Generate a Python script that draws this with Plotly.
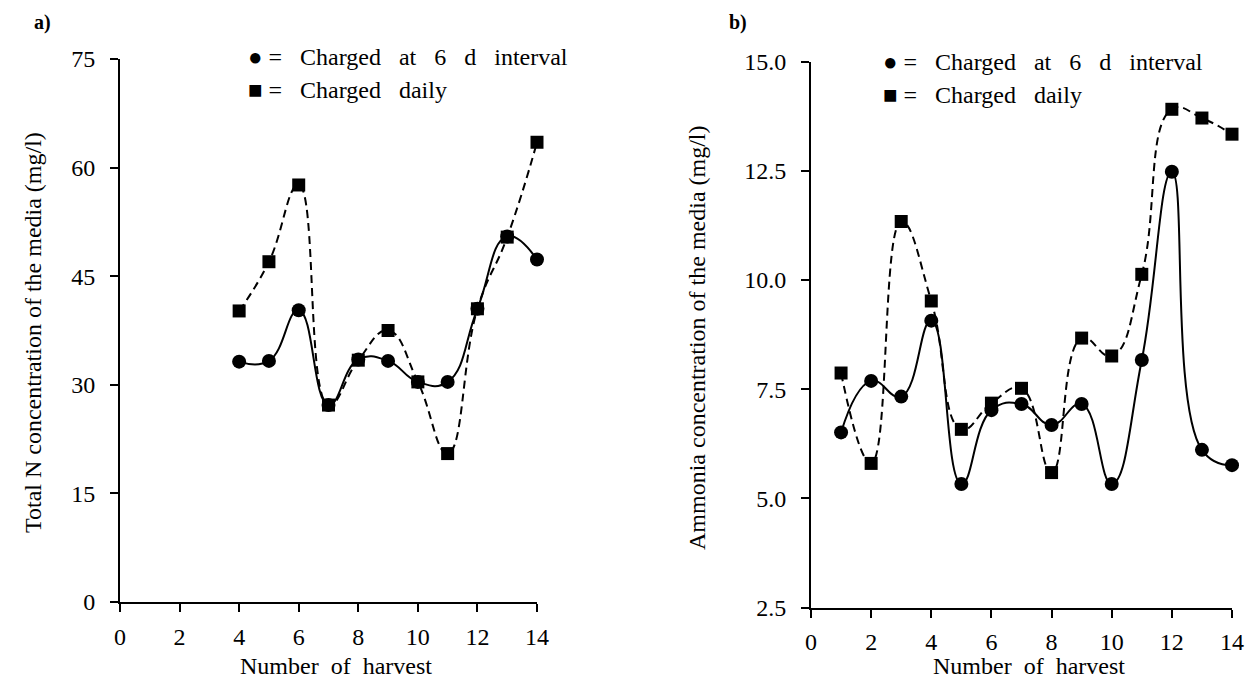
import plotly.graph_objects as go

# ---- data ----
harvest_a = [4, 5, 6, 7, 8, 9, 10, 11, 12, 13, 14]
totalN_6d = [33.2, 33.3, 40.3, 27.2, 33.5, 33.3, 30.4, 30.4, 40.5, 50.5, 47.3]
totalN_daily = [40.2, 47.0, 57.6, 27.2, 33.4, 37.5, 30.4, 20.5, 40.5, 50.4, 63.5]

harvest_b = [1, 2, 3, 4, 5, 6, 7, 8, 9, 10, 11, 12, 13, 14]
ammonia_6d = [6.51, 7.69, 7.33, 9.07, 5.33, 7.02, 7.16, 6.68, 7.16, 5.33, 8.17, 12.48, 6.11, 5.76]
ammonia_daily = [7.87, 5.80, 11.34, 9.52, 6.58, 7.18, 7.52, 5.59, 8.67, 8.26, 10.13, 13.91, 13.71, 13.34]

x_ticks = [0, 2, 4, 6, 8, 10, 12, 14]
ya_ticks = [0, 15, 30, 45, 60, 75]
yb_ticks = [2.5, 5.0, 7.5, 10.0, 12.5, 15.0]

FONT = "Liberation Serif"
OFF = 8  # page body margin
W, H = 1255 - 2 * OFF, 689 - 2 * OFF

def px_x(p):
    return (p - OFF) / W

def px_y(p):
    return 1 - (p - OFF) / H

fig = go.Figure()

def add_series(x, y, xa, ya, symbol, dash, size):
    fig.add_trace(go.Scatter(
        x=x, y=y, xaxis=xa, yaxis=ya, mode="lines+markers",
        line=dict(color="black", width=2, dash=dash, shape="spline", smoothing=1.3),
        marker=dict(symbol=symbol, size=size, color="black"),
        cliponaxis=False, showlegend=False))

add_series(harvest_a, totalN_6d, "x", "y", "circle", "solid", 14)
add_series(harvest_a, totalN_daily, "x", "y", "square", "8px,5px", 13)
add_series(harvest_b, ammonia_6d, "x2", "y2", "circle", "solid", 14)
add_series(harvest_b, ammonia_daily, "x2", "y2", "square", "8px,5px", 13)

axis_common = dict(
    showline=True, linecolor="black", linewidth=2, ticks="outside", ticklen=8,
    tickwidth=2, tickcolor="black", showgrid=False, zeroline=False, automargin=False,
    tickfont=dict(family=FONT, size=24, color="black"),
)

fig.update_layout(
    width=W, height=H, plot_bgcolor="white", paper_bgcolor="white",
    margin=dict(l=0, r=0, t=0, b=0, pad=0, autoexpand=False),
    xaxis=dict(domain=[px_x(120), px_x(537)], range=[0, 14], tickvals=x_ticks,
               anchor="y", ticklabelstandoff=4, **axis_common),
    yaxis=dict(domain=[px_y(602), px_y(59)], range=[0, 75], tickvals=ya_ticks,
               anchor="x", ticklabelstandoff=10, **axis_common),
    xaxis2=dict(domain=[px_x(811), px_x(1232)], range=[0, 14], tickvals=x_ticks,
                anchor="y2", ticklabelstandoff=4, **axis_common),
    yaxis2=dict(domain=[px_y(607.5), px_y(61.7)], range=[2.5, 15], tickvals=yb_ticks,
                tickformat=".1f", anchor="x2", ticklabelstandoff=10, **axis_common),
)

NB = "\u00a0"
def sp(s, n=2):
    return s.replace(" ", NB * n)

annots = [
    dict(text="<b>a)</b>", x=px_x(42), y=px_y(22), font=dict(size=20)),
    dict(text="<b>b)</b>", x=px_x(738), y=px_y(22), font=dict(size=20)),
    dict(text="Total N concentration of the media (mg/l)", x=px_x(33), y=px_y(333),
         textangle=-90, font=dict(size=24)),
    dict(text="Ammonia concentration of the media (mg/l)", x=px_x(697), y=px_y(338),
         textangle=-90, font=dict(size=24)),
    dict(text=sp("Number of harvest"), x=px_x(336), y=px_y(666), font=dict(size=24)),
    dict(text=sp("Number of harvest"), x=px_x(1029), y=px_y(666), font=dict(size=24)),
]
legend_items = [
    (246, 57, "●", "Charged at 6 d interval"),
    (246, 90, "■", "Charged daily"),
    (881, 62, "●", "Charged at 6 d interval"),
    (881, 95, "■", "Charged daily"),
]
for lx, ly, sym, txt in legend_items:
    annots.append(dict(text=sym + NB + "=" + NB * 3 + sp(txt, 3), x=px_x(lx), y=px_y(ly),
                       xanchor="left", font=dict(size=24)))

for a in annots:
    a.setdefault("xanchor", "center")
    a.update(xref="paper", yref="paper", yanchor="middle", showarrow=False)
    a["font"] = dict(family=FONT, color="black", **a["font"])
    fig.add_annotation(**a)

fig.write_html("out.html")
